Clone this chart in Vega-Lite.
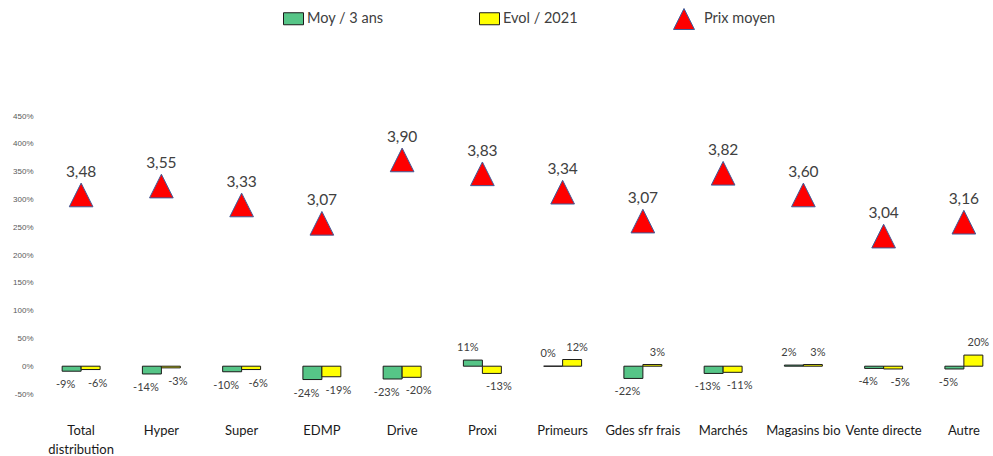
{
  "$schema": "https://vega.github.io/schema/vega-lite/v6.json",
  "autosize": {"type": "none"},
  "padding": {"left": 41, "top": 116, "right": 0, "bottom": 62},
  "width": 952,
  "height": 278,
  "datasets": {
    "bars": [
      {"cat": "Total distribution", "serie": "Moy / 3 ans", "val": -0.09},
      {"cat": "Total distribution", "serie": "Evol / 2021", "val": -0.06},
      {"cat": "Hyper", "serie": "Moy / 3 ans", "val": -0.14},
      {"cat": "Hyper", "serie": "Evol / 2021", "val": -0.03},
      {"cat": "Super", "serie": "Moy / 3 ans", "val": -0.10},
      {"cat": "Super", "serie": "Evol / 2021", "val": -0.06},
      {"cat": "EDMP", "serie": "Moy / 3 ans", "val": -0.24},
      {"cat": "EDMP", "serie": "Evol / 2021", "val": -0.19},
      {"cat": "Drive", "serie": "Moy / 3 ans", "val": -0.23},
      {"cat": "Drive", "serie": "Evol / 2021", "val": -0.20},
      {"cat": "Proxi", "serie": "Moy / 3 ans", "val": 0.11},
      {"cat": "Proxi", "serie": "Evol / 2021", "val": -0.13},
      {"cat": "Primeurs", "serie": "Moy / 3 ans", "val": 0.0},
      {"cat": "Primeurs", "serie": "Evol / 2021", "val": 0.12},
      {"cat": "Gdes sfr frais", "serie": "Moy / 3 ans", "val": -0.22},
      {"cat": "Gdes sfr frais", "serie": "Evol / 2021", "val": 0.03},
      {"cat": "Marchés", "serie": "Moy / 3 ans", "val": -0.13},
      {"cat": "Marchés", "serie": "Evol / 2021", "val": -0.11},
      {"cat": "Magasins bio", "serie": "Moy / 3 ans", "val": 0.02},
      {"cat": "Magasins bio", "serie": "Evol / 2021", "val": 0.03},
      {"cat": "Vente directe", "serie": "Moy / 3 ans", "val": -0.04},
      {"cat": "Vente directe", "serie": "Evol / 2021", "val": -0.05},
      {"cat": "Autre", "serie": "Moy / 3 ans", "val": -0.05},
      {"cat": "Autre", "serie": "Evol / 2021", "val": 0.20}
    ],
    "prix": [
      {"cat": "Total distribution", "prix": 3.48, "niveau": 3.08},
      {"cat": "Hyper", "prix": 3.55, "niveau": 3.24},
      {"cat": "Super", "prix": 3.33, "niveau": 2.90},
      {"cat": "EDMP", "prix": 3.07, "niveau": 2.57},
      {"cat": "Drive", "prix": 3.90, "niveau": 3.71},
      {"cat": "Proxi", "prix": 3.83, "niveau": 3.46},
      {"cat": "Primeurs", "prix": 3.34, "niveau": 3.13},
      {"cat": "Gdes sfr frais", "prix": 3.07, "niveau": 2.61},
      {"cat": "Marchés", "prix": 3.82, "niveau": 3.47},
      {"cat": "Magasins bio", "prix": 3.60, "niveau": 3.08},
      {"cat": "Vente directe", "prix": 3.04, "niveau": 2.34},
      {"cat": "Autre", "prix": 3.16, "niveau": 2.59}
    ]
  },
  "encoding": {
    "x": {
      "field": "cat", "type": "nominal", "sort": null,
      "scale": {"range": [0, 963], "paddingInner": 0.527, "paddingOuter": 0.2635},
      "axis": {
        "title": null, "labelAngle": 0, "domain": false, "ticks": false, "grid": false,
        "labelPadding": 30, "labelFont": "Lato", "labelFontSize": 13, "labelColor": "#1a1a1a",
        "labelLineHeight": 19, "labelLimit": 200, "labelOverlap": false,
        "labelExpr": "datum.label == 'Total distribution' ? ['Total', 'distribution'] : datum.label"
      }
    },
    "y": {
      "type": "quantitative",
      "scale": {"domain": [-0.5, 4.5], "nice": false, "zero": true},
      "axis": {
        "title": null, "tickCount": 10,
        "labelExpr": "replace(format(datum.value, '.0%'), '−', '-')",
        "domain": false, "ticks": false, "grid": false, "labelOverlap": false,
        "labelPadding": 8, "labelFont": "Liberation Sans", "labelFontSize": 8, "labelColor": "#595959"
      }
    }
  },
  "layer": [
    {
      "data": {"name": "bars"},
      "mark": {"type": "bar", "stroke": "#1a1a1a", "strokeWidth": 1},
      "encoding": {
        "xOffset": {"field": "serie", "type": "nominal", "sort": ["Moy / 3 ans", "Evol / 2021"], "scale": {"paddingInner": 0}},
        "y": {"field": "val"},
        "color": {
          "field": "serie", "type": "nominal",
          "scale": {"domain": ["Moy / 3 ans", "Evol / 2021"], "range": ["#56C587", "#FFFF00"]},
          "legend": {
            "orient": "none", "legendX": 242, "legendY": -108, "direction": "horizontal",
            "title": null, "gridAlign": "all", "columnPadding": 93, "padding": 0,
            "symbolType": "M-1,-0.6L1,-0.6L1,0.6L-1,0.6Z", "symbolSize": 400, "symbolOpacity": 1,
            "symbolStrokeColor": "#1a1a1a", "symbolStrokeWidth": 1,
            "labelFont": "Lato", "labelFontSize": 14.5, "labelColor": "#404040", "labelOffset": 3
          }
        }
      }
    },
    {
      "data": {"name": "bars"},
      "transform": [{"filter": "datum.val < 0 && datum.serie == 'Moy / 3 ans'"}],
      "mark": {"type": "text", "baseline": "top", "dy": 8, "dx": -6, "font": "Lato", "fontSize": 11, "color": "#404040"},
      "encoding": {
        "xOffset": {"field": "serie", "type": "nominal", "sort": ["Moy / 3 ans", "Evol / 2021"]},
        "y": {"field": "val"},
        "text": {"field": "val", "type": "quantitative", "format": ".0%"}
      }
    },
    {
      "data": {"name": "bars"},
      "transform": [{"filter": "datum.val < 0 && datum.serie == 'Evol / 2021'"}],
      "mark": {"type": "text", "baseline": "top", "dy": 8, "dx": 7, "font": "Lato", "fontSize": 11, "color": "#404040"},
      "encoding": {
        "xOffset": {"field": "serie", "type": "nominal", "sort": ["Moy / 3 ans", "Evol / 2021"]},
        "y": {"field": "val"},
        "text": {"field": "val", "type": "quantitative", "format": ".0%"}
      }
    },
    {
      "data": {"name": "bars"},
      "transform": [{"filter": "datum.val >= 0 && datum.serie == 'Moy / 3 ans'"}],
      "mark": {"type": "text", "baseline": "bottom", "dy": -7, "dx": -5, "font": "Lato", "fontSize": 11, "color": "#404040"},
      "encoding": {
        "xOffset": {"field": "serie", "type": "nominal", "sort": ["Moy / 3 ans", "Evol / 2021"]},
        "y": {"field": "val"},
        "text": {"field": "val", "type": "quantitative", "format": ".0%"}
      }
    },
    {
      "data": {"name": "bars"},
      "transform": [{"filter": "datum.val >= 0 && datum.serie == 'Evol / 2021'"}],
      "mark": {"type": "text", "baseline": "bottom", "dy": -7, "dx": 5, "font": "Lato", "fontSize": 11, "color": "#404040"},
      "encoding": {
        "xOffset": {"field": "serie", "type": "nominal", "sort": ["Moy / 3 ans", "Evol / 2021"]},
        "y": {"field": "val"},
        "text": {"field": "val", "type": "quantitative", "format": ".0%"}
      }
    },
    {
      "data": {"name": "prix"},
      "mark": {"type": "point", "shape": "M0,-1L-1,1L1,1Z", "size": 560, "filled": true, "opacity": 1, "stroke": "#3F5C9A", "strokeWidth": 1},
      "encoding": {
        "y": {"field": "niveau"},
        "fill": {
          "datum": "Prix moyen",
          "scale": {"domain": ["Prix moyen"], "range": ["#FF0000"]},
          "legend": {
            "orient": "none", "legendX": 632, "legendY": -108, "direction": "horizontal",
            "title": null, "padding": 0,
            "symbolType": "M0,-1L-1,1L1,1Z", "symbolSize": 440, "symbolOpacity": 1,
            "symbolStrokeColor": "#3F5C9A", "symbolStrokeWidth": 1,
            "labelFont": "Lato", "labelFontSize": 14.5, "labelColor": "#404040", "labelOffset": 9
          }
        }
      }
    },
    {
      "data": {"name": "prix"},
      "mark": {"type": "text", "baseline": "middle", "dy": -23, "font": "Lato", "fontSize": 15.5, "color": "#404040"},
      "encoding": {
        "y": {"field": "niveau"},
        "text": {"field": "prix", "type": "quantitative", "format": ".2f"}
      }
    }
  ],
  "config": {
    "view": {"stroke": null},
    "locale": {"number": {"decimal": ",", "thousands": " ", "grouping": [3], "currency": ["", " €"], "minus": "-"}}
  }
}
